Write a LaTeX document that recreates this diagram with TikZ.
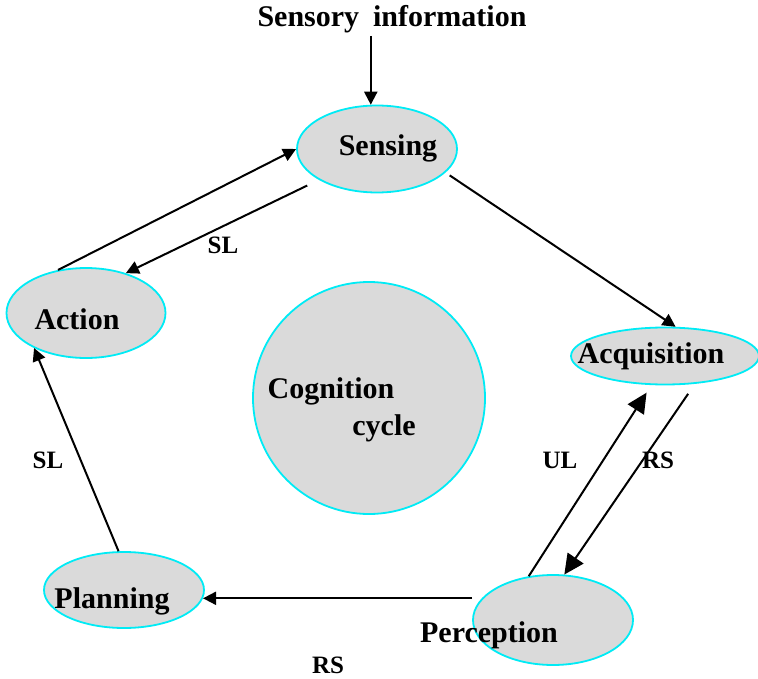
\documentclass[tikz,border=0pt]{standalone}
\usepackage{fontspec}
\setmainfont{Liberation Serif}
\usetikzlibrary{shapes.geometric,arrows.meta}
\definecolor{cellgray}{RGB}{218,218,218}
\definecolor{rimcyan}{RGB}{0,235,245}

\begin{document}
\begin{tikzpicture}[x=1pt, y=-1pt,
    phase/.style={ellipse, draw=rimcyan, fill=cellgray, line width=1.8pt, inner sep=0},
    word/.style={inner sep=3pt, font=\fontsize{30}{36}\selectfont\bfseries},
    tag/.style={inner sep=0pt, font=\fontsize{25}{30}\selectfont\bfseries},
    arr/.style={line width=2pt, -{Triangle[length=13pt,width=13pt]}},
    bigarr/.style={line width=2pt, -{Triangle[length=20pt,width=19pt]}}]
  \useasboundingbox (0,0) rectangle (758,679);

  % Phases of the cycle
  \foreach \name/\x/\y/\w/\h in {sensing/377/149/160/87, action/86/313/159/90,
      acquisition/665/356/188/57, perception/553/620/160/90, planning/124/590/160/76} {
    \node[phase, minimum width=\w, minimum height=\h] (\name) at (\x,\y) {};
  }
  \node[phase, circle, minimum size=232] (cycle) at (369,398) {};

  % Phase names
  \foreach \name/\x/\y/\txt in {sensingtxt/388/148/Sensing, actiontxt/77/319/Action,
      acquisitiontxt/651/356/Acquisition, perceptiontxt/489/635/Perception,
      planningtxt/112/601/Planning, cognitiontxt/331/391/Cognition, cycletxt/384/428/cycle} {
    \node[word] (\name) at (\x,\y) {\txt};
  }
  \node[word] (info) at (392,19) {Sensory\hspace{14pt}information};

  % Transitions
  \draw[arr] (info.south -| sensing.98) -- (sensing.98);
  \draw[arr, shorten <=5pt] (sensing.-19) -- (acquisition.70);
  \draw[bigarr, shorten <=12pt] (acquisition.-43) -- (perception.76);
  \draw[bigarr, shorten >=9pt] (perception.119) -- (acquisition.-115);
  \draw[arr] (planning.-6 -| perception.west) -- (planning.-6);
  \draw[arr] (planning.98) -- (action.-146);
  \draw[arr] (action.123) -- (sensing.west);
  \draw[arr, shorten <=13pt] (sensing.-152) -- (action.45);

  % Link labels
  \foreach \name/\x/\y/\txt in {slup/223/245/SL, slleft/48/460/SL, ulright/560/460/UL,
      rsright/658/460/RS, rsdown/328/665/RS} {
    \node[tag] (\name) at (\x,\y) {\txt};
  }
\end{tikzpicture}
\end{document}
